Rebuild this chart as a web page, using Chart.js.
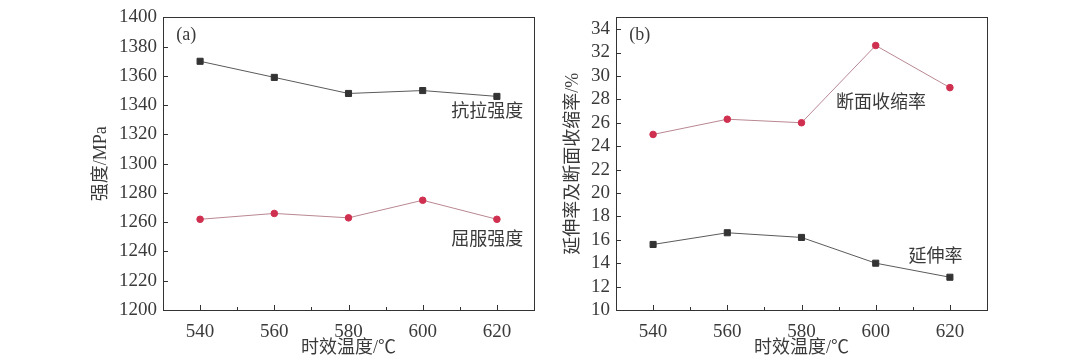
<!DOCTYPE html>
<html>
<head>
<meta charset="utf-8">
<script src="https://cdn.jsdelivr.net/npm/chart.js@4.4.0/dist/chart.umd.min.js"></script>
<style>
  html, body { margin: 0; padding: 0; background: #fff; }
  #wrap { position: relative; width: 1080px; height: 361px; }
  .panel { position: absolute; top: 0; height: 361px; }
</style>
</head>
<body>
<div id="wrap">
  <div class="panel" style="left:0;width:560px"><canvas id="chartA"></canvas></div>
  <div class="panel" style="left:560px;width:520px"><canvas id="chartB"></canvas></div>
</div>
<script>
// data
const temps = [540, 560, 580, 600, 620];
const tensile = [1370, 1359, 1348, 1350, 1346];
const yieldStrength = [1262, 1266, 1263, 1275, 1262];
const reduction = [25.0, 26.3, 26.0, 32.6, 29.0];
const elongation = [15.6, 16.6, 16.2, 14.0, 12.8];

const xTicks = [540, 560, 580, 600, 620];
const xMinorTicks = [550, 570, 590, 610];
const yTicksA = [1200, 1220, 1240, 1260, 1280, 1300, 1320, 1340, 1360, 1380, 1400];
const yTicksB = [10, 12, 14, 16, 18, 20, 22, 24, 26, 28, 30, 32, 34];

const serif = "'Liberation Serif', 'Noto Sans CJK SC', serif";
const cjk = "'Liberation Serif', 'Noto Sans CJK SC', sans-serif";
const textColor = "#3a3a3a";
const darkLine = "#5a5a5a";
const darkMark = "#333333";
const redLine = "#b98792";
const redMark = "#d0304f";

function pts(ys) {
    return temps.map((t, i) => ({ x: t, y: ys[i] }));
}

// frame, inward ticks and the text labels inside the plot
const framePlugin = {
    id: "frame",
    afterDraw(chart, args, opts) {
        const ctx = chart.ctx;
        const a = chart.chartArea;
        const xs = chart.scales.x, ys = chart.scales.y;
        ctx.save();
        ctx.strokeStyle = "#333";
        ctx.lineWidth = 1;
        ctx.strokeRect(Math.round(a.left) + 0.5, Math.round(a.top) + 0.5,
            Math.round(a.right - a.left), Math.round(a.bottom - a.top));
        ctx.beginPath();
        xTicks.forEach(v => {
            const px = Math.round(xs.getPixelForValue(v)) + 0.5;
            ctx.moveTo(px, a.bottom); ctx.lineTo(px, a.bottom - 5);
        });
        xMinorTicks.forEach(v => {
            const px = Math.round(xs.getPixelForValue(v)) + 0.5;
            ctx.moveTo(px, a.bottom); ctx.lineTo(px, a.bottom - 3);
        });
        opts.yTicks.forEach(v => {
            const py = Math.round(ys.getPixelForValue(v)) + 0.5;
            ctx.moveTo(a.left, py); ctx.lineTo(a.left + 5, py);
        });
        ctx.stroke();

        ctx.fillStyle = textColor;
        ctx.textBaseline = "middle";
        opts.notes.forEach(n => {
            ctx.font = n.font;
            ctx.textAlign = n.align;
            ctx.fillText(n.text, xs.getPixelForValue(n.x), ys.getPixelForValue(n.y));
        });
        ctx.restore();
    }
};

function makeChart(id, cfg) {
    return new Chart(document.getElementById(id), {
        type: "line",
        data: {
            datasets: cfg.series.map(s => ({
                data: pts(s.values),
                borderColor: s.line,
                borderWidth: 1,
                pointStyle: s.style,
                pointRadius: s.radius,
                pointBackgroundColor: s.mark,
                pointBorderColor: s.mark,
                pointBorderWidth: 1,
                tension: 0,
                fill: false
            }))
        },
        options: {
            responsive: true,
            maintainAspectRatio: false,
            animation: false,
            layout: { padding: { top: 11, right: cfg.padRight, bottom: 0, left: 0 } },
            plugins: {
                legend: { display: false },
                tooltip: { enabled: false },
                frame: { yTicks: cfg.yTicks, notes: cfg.notes }
            },
            scales: {
                x: {
                    type: "linear",
                    min: 530,
                    max: 630,
                    afterBuildTicks: s => { s.ticks = xTicks.map(v => ({ value: v })); },
                    afterFit: s => { s.height = 51; },
                    grid: { display: false },
                    border: { display: false },
                    ticks: {
                        color: textColor, font: { family: serif, size: 19 }, padding: 3,
                        maxRotation: 0, autoSkip: false, callback: v => String(v)
                    },
                    title: {
                        display: true,
                        text: "时效温度/℃",
                        color: textColor,
                        font: { family: cjk, size: 18 },
                        padding: { top: 0, bottom: 2 }
                    }
                },
                y: {
                    min: cfg.yMin,
                    max: cfg.yMax,
                    afterBuildTicks: s => { s.ticks = cfg.yTicks.map(v => ({ value: v })); },
                    afterFit: s => { s.width = cfg.yWidth; },
                    grid: { display: false, drawTicks: false },
                    border: { display: false },
                    ticks: {
                        color: textColor, font: { family: serif, size: 19 }, padding: 6,
                        autoSkip: false, callback: v => String(v)
                    },
                    title: {
                        display: true,
                        text: cfg.yTitle,
                        color: textColor,
                        font: { family: cjk, size: 18 },
                        padding: { top: cfg.yTitlePad, bottom: 0 }
                    }
                }
            }
        },
        plugins: [framePlugin]
    });
}

makeChart("chartA", {
    series: [
        { values: tensile, line: darkLine, mark: darkMark, style: "rect", radius: 4.3 },
        { values: yieldStrength, line: redLine, mark: redMark, style: "circle", radius: 3.3 }
    ],
    yMin: 1200, yMax: 1400, yTicks: yTicksA,
    yWidth: 163, padRight: 26,
    yTitle: "强度/MPa", yTitlePad: 90,
    notes: [
        { text: "(a)", x: 533.6, y: 1388, align: "left", font: "18px " + serif },
        { text: "抗拉强度", x: 617.4, y: 1335, align: "center", font: "18px " + cjk },
        { text: "屈服强度", x: 617.4, y: 1248, align: "center", font: "18px " + cjk }
    ]
});

makeChart("chartB", {
    series: [
        { values: elongation, line: darkLine, mark: darkMark, style: "rect", radius: 4.3 },
        { values: reduction, line: redLine, mark: redMark, style: "circle", radius: 3.3 }
    ],
    yMin: 10, yMax: 35, yTicks: yTicksB,
    yWidth: 56, padRight: 93,
    yTitle: "延伸率及断面收缩率/%", yTitlePad: 2,
    notes: [
        { text: "(b)", x: 533.6, y: 33.5, align: "left", font: "18px " + serif },
        { text: "断面收缩率", x: 601.4, y: 27.7, align: "center", font: "18px " + cjk },
        { text: "延伸率", x: 616.1, y: 14.5, align: "center", font: "18px " + cjk }
    ]
});
</script>
</body>
</html>
